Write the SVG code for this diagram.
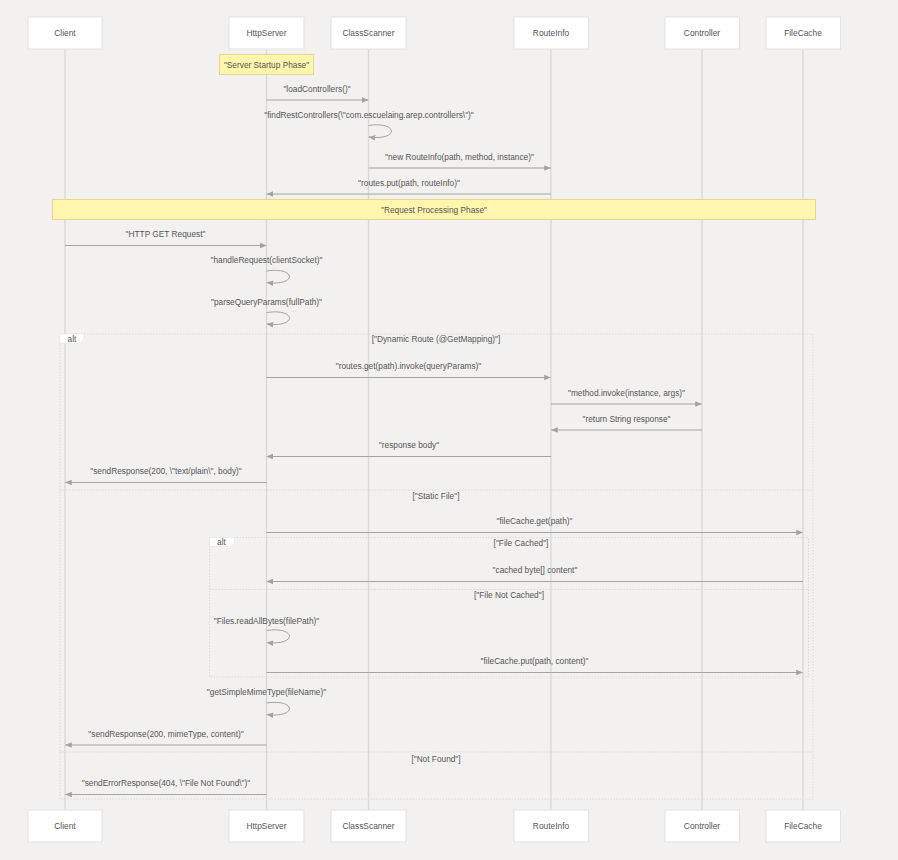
<svg xmlns="http://www.w3.org/2000/svg" width="898" height="860" viewBox="0 0 898 860">
<defs>
<style>
.bg{fill:#f2f1ef}
.actor rect{fill:#ffffff;stroke:#e2e2e2;stroke-width:1}
.actor text{font-family:"Liberation Sans",Arial,sans-serif;font-size:8.4px;fill:#555;text-anchor:middle;dominant-baseline:central}
.life{stroke:#d8d8d8;stroke-width:1.3}
.msg{stroke:#a3a3a3;stroke-width:1;fill:none}
.lbl{font-family:"Liberation Sans",Arial,sans-serif;font-size:8.3px;fill:#555;text-anchor:middle;dominant-baseline:central}
.note rect{fill:#fff5ad;stroke:#e6d68e;stroke-width:1}
.frame{fill:none;stroke:#d9d9d9;stroke-width:1;stroke-dasharray:1.5,1.5}
.altlbl{fill:#ffffff;stroke:#e4e4e4;stroke-width:0.5}
</style>
<marker id="ah" viewBox="0 0 10 10" refX="9" refY="5" markerWidth="7" markerHeight="7" markerUnits="userSpaceOnUse" orient="auto">
<path d="M0,1 L10,5 L0,9 z" fill="#a3a3a3"/>
</marker>
</defs>
<rect class="bg" x="0" y="0" width="898" height="860"/>

<g id="lifelines">
<line class="life" x1="65" y1="49" x2="65" y2="810"/>
<line class="life" x1="266.5" y1="49" x2="266.5" y2="810"/>
<line class="life" x1="368.5" y1="49" x2="368.5" y2="810"/>
<line class="life" x1="551" y1="49" x2="551" y2="810"/>
<line class="life" x1="702" y1="49" x2="702" y2="810"/>
<line class="life" x1="803" y1="49" x2="803" y2="810"/>
</g>

<g id="frames">
<rect class="frame" x="60" y="334" width="753" height="465"/>
<polygon class="altlbl" points="60,334 84,334 84,339 80,343 60,343"/>
<text class="lbl" x="72" y="338.5">alt</text>
<text class="lbl" x="436" y="339">["Dynamic Route (@GetMapping)"]</text>
<line class="frame" x1="60" y1="490" x2="813" y2="490"/>
<text class="lbl" x="436" y="496">["Static File"]</text>
<line class="frame" x1="60" y1="752" x2="813" y2="752"/>
<text class="lbl" x="436" y="759">["Not Found"]</text>

<rect class="frame" x="209.5" y="537.5" width="599" height="139.5"/>
<polygon class="altlbl" points="209.5,537.5 234,537.5 234,542.5 230,546.5 209.5,546.5"/>
<text class="lbl" x="221.5" y="542">alt</text>
<text class="lbl" x="521" y="543">["File Cached"]</text>
<line class="frame" x1="209.5" y1="589.5" x2="808.5" y2="589.5"/>
<text class="lbl" x="509" y="595">["File Not Cached"]</text>
</g>

<g id="actor-client-top" class="actor"><rect x="28" y="17" width="74" height="32"/><text x="65" y="33">Client</text></g>
<g id="actor-httpserver-top" class="actor"><rect x="229" y="17" width="75" height="32"/><text x="266.5" y="33">HttpServer</text></g>
<g id="actor-classscanner-top" class="actor"><rect x="331" y="17" width="75" height="32"/><text x="368.5" y="33">ClassScanner</text></g>
<g id="actor-routeinfo-top" class="actor"><rect x="514" y="17" width="74.5" height="32"/><text x="551" y="33">RouteInfo</text></g>
<g id="actor-controller-top" class="actor"><rect x="665" y="17" width="74.5" height="32"/><text x="702" y="33">Controller</text></g>
<g id="actor-filecache-top" class="actor"><rect x="766" y="17" width="74.5" height="32"/><text x="803" y="33">FileCache</text></g>

<g id="actor-client-bottom" class="actor"><rect x="28" y="810" width="74" height="32"/><text x="65" y="826">Client</text></g>
<g id="actor-httpserver-bottom" class="actor"><rect x="229" y="810" width="75" height="32"/><text x="266.5" y="826">HttpServer</text></g>
<g id="actor-classscanner-bottom" class="actor"><rect x="331" y="810" width="75" height="32"/><text x="368.5" y="826">ClassScanner</text></g>
<g id="actor-routeinfo-bottom" class="actor"><rect x="514" y="810" width="74.5" height="32"/><text x="551" y="826">RouteInfo</text></g>
<g id="actor-controller-bottom" class="actor"><rect x="665" y="810" width="74.5" height="32"/><text x="702" y="826">Controller</text></g>
<g id="actor-filecache-bottom" class="actor"><rect x="766" y="810" width="74.5" height="32"/><text x="803" y="826">FileCache</text></g>

<g id="note-startup" class="note"><rect x="219.5" y="54.5" width="94" height="20"/><text class="lbl" x="266.5" y="64.5">"Server Startup Phase"</text></g>
<g id="note-request" class="note"><rect x="52.5" y="199.5" width="763" height="20"/><text class="lbl" x="434" y="209.5">"Request Processing Phase"</text></g>

<g id="connectors">
<line class="msg" x1="266.5" y1="100" x2="368" y2="100" marker-end="url(#ah)"/>
<text class="lbl" x="317" y="89">"loadControllers()"</text>

<path class="msg" d="M368.5,125.5 C399,121 399,141 369,137" marker-end="url(#ah)"/>
<text class="lbl" x="369" y="115">"findRestControllers(\"com.escuelaing.arep.controllers\")"</text>

<line class="msg" x1="368.5" y1="168" x2="550.5" y2="168" marker-end="url(#ah)"/>
<text class="lbl" x="459.5" y="157">"new RouteInfo(path, method, instance)"</text>

<line class="msg" x1="551" y1="194" x2="267" y2="194" marker-end="url(#ah)"/>
<text class="lbl" x="409" y="183">"routes.put(path, routeInfo)"</text>

<line class="msg" x1="65" y1="245.5" x2="266" y2="245.5" marker-end="url(#ah)"/>
<text class="lbl" x="165.5" y="234">"HTTP GET Request"</text>

<path class="msg" d="M266.5,271 C297,266.5 297,286.5 267,282.5" marker-end="url(#ah)"/>
<text class="lbl" x="266.5" y="260">"handleRequest(clientSocket)"</text>

<path class="msg" d="M266.5,312.5 C297,308 297,328 267,324" marker-end="url(#ah)"/>
<text class="lbl" x="266.5" y="302">"parseQueryParams(fullPath)"</text>

<line class="msg" x1="266.5" y1="377.5" x2="550.5" y2="377.5" marker-end="url(#ah)"/>
<text class="lbl" x="408.5" y="366">"routes.get(path).invoke(queryParams)"</text>

<line class="msg" x1="551" y1="404" x2="701.5" y2="404" marker-end="url(#ah)"/>
<text class="lbl" x="626.5" y="392.5">"method.invoke(instance, args)"</text>

<line class="msg" x1="702" y1="430" x2="551.5" y2="430" marker-end="url(#ah)"/>
<text class="lbl" x="626.5" y="419">"return String response"</text>

<line class="msg" x1="551" y1="456.5" x2="267" y2="456.5" marker-end="url(#ah)"/>
<text class="lbl" x="409" y="445">"response body"</text>

<line class="msg" x1="266.5" y1="482.5" x2="65.5" y2="482.5" marker-end="url(#ah)"/>
<text class="lbl" x="166" y="471">"sendResponse(200, \"text/plain\", body)"</text>

<line class="msg" x1="266.5" y1="532.5" x2="802.5" y2="532.5" marker-end="url(#ah)"/>
<text class="lbl" x="534.5" y="521">"fileCache.get(path)"</text>

<line class="msg" x1="803" y1="581.5" x2="267" y2="581.5" marker-end="url(#ah)"/>
<text class="lbl" x="535" y="570">"cached byte[] content"</text>

<path class="msg" d="M266.5,630.5 C297,626 297,646 267,642.5" marker-end="url(#ah)"/>
<text class="lbl" x="266.5" y="620.5">"Files.readAllBytes(filePath)"</text>

<line class="msg" x1="266.5" y1="672.5" x2="802.5" y2="672.5" marker-end="url(#ah)"/>
<text class="lbl" x="534.5" y="661">"fileCache.put(path, content)"</text>

<path class="msg" d="M266.5,703 C297,698.5 297,718.5 267,714.5" marker-end="url(#ah)"/>
<text class="lbl" x="266.5" y="692">"getSimpleMimeType(fileName)"</text>

<line class="msg" x1="266.5" y1="745" x2="65.5" y2="745" marker-end="url(#ah)"/>
<text class="lbl" x="166" y="734">"sendResponse(200, mimeType, content)"</text>

<line class="msg" x1="266.5" y1="794.5" x2="65.5" y2="794.5" marker-end="url(#ah)"/>
<text class="lbl" x="166" y="783">"sendErrorResponse(404, \"File Not Found\")"</text>
</g>
</svg>
